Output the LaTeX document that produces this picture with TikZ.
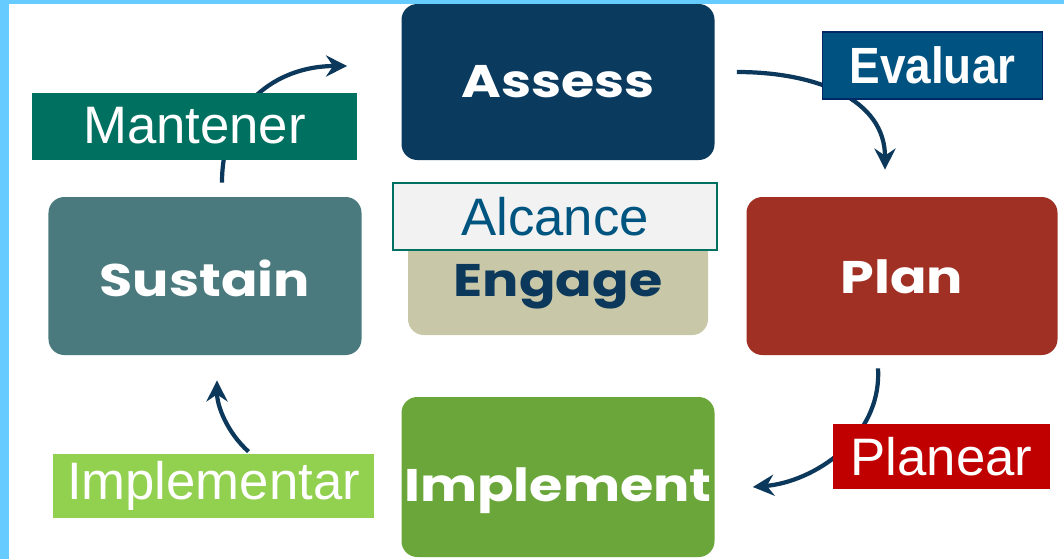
\documentclass[tikz,border=0pt]{standalone}
\usepackage{fontspec}
\usepackage{graphicx}
\setmainfont{Liberation Sans}
\newfontfamily\stagefont{Poppins}[FakeStretch=1.18]
\usetikzlibrary{arrows.meta, positioning, calc}
\definecolor{skyframe}{RGB}{102,204,255}
\definecolor{assessblue}{RGB}{10,58,94}
\definecolor{sustainteal}{RGB}{74,122,125}
\definecolor{engagebeige}{RGB}{200,200,168}
\definecolor{planred}{RGB}{160,48,36}
\definecolor{implementgreen}{RGB}{106,166,58}
\definecolor{cyclenavy}{RGB}{12,56,92}
\definecolor{mantenergreen}{RGB}{0,112,96}
\definecolor{evaluarblue}{RGB}{0,82,128}
\definecolor{evaluarrim}{RGB}{0,40,100}
\definecolor{planearred}{RGB}{192,0,0}
\definecolor{implementarlime}{RGB}{146,208,80}
\definecolor{alcancegrey}{RGB}{242,242,242}
\definecolor{alcancetext}{RGB}{0,84,128}

\begin{document}
\begin{tikzpicture}[
    x=0.2mm, y=-0.2mm,
    stage/.style={rectangle, rounded corners=9pt, text=white, inner xsep=0pt,
                  minimum width=6.26cm, minimum height=3.12cm,
                  text height=18pt, text depth=0pt,
                  font=\stagefont\bfseries\fontsize{26}{30}\selectfont},
    tag/.style={rectangle, inner sep=0pt, text=white, minimum height=1.34cm,
                font=\fontsize{30}{34}\selectfont},
    cycle/.style={-{Stealth[length=12pt,width=12pt,inset=4pt]}, line width=2.4pt,
                  cyclenavy}
]
    % page and frame
    \fill[white] (0,0) rectangle (1064,559);
    \useasboundingbox (0,0) rectangle (1064,559);
    \fill[skyframe] (0,0) rectangle (1064,4);
    \fill[skyframe] (0,0) rectangle (9,559);

    % the five stages
    \node[stage, fill=assessblue] (assess) at (558,82) {Assess};
    \node[stage, fill=sustainteal, minimum height=3.16cm, text height=23.6pt] (sustain) at (205,276) {Sustain};
    \node[stage, fill=planred, minimum width=6.22cm, minimum height=3.16cm, text height=20pt] (plan) at (902,276) {Plan};
    \node[stage, fill=implementgreen, minimum height=3.2cm, text height=28pt] (implement) at (558,477) {Implement};
    \node[stage, fill=engagebeige, text=cyclenavy, minimum width=6cm, minimum height=2.16cm] (engage) at (558,281) {Engage};

    % cycle arrows
    \draw[cycle] ([shift={(17,-14)}]sustain.north) .. controls +(0,-78) and +(-70,0) .. ([shift={(-54,-16)}]assess.west);
    \draw[cycle] ([shift={(22,-10)}]assess.east) .. controls +(80,0) and +(0,-70) .. ([shift={(-17,-27)}]plan.north);
    \draw[cycle] ([shift={(-24,13)}]plan.south) .. controls +(4,70) and +(60,-5) .. ([shift={(38,10)}]implement.east);

    % spanish tags
    \node[tag, fill=mantenergreen, minimum width=6.5cm] (mantener) at (194.5,126) {Mantener};
    \node[tag, fill=evaluarblue, draw=evaluarrim, line width=0.8pt, minimum width=4.4cm] (evaluar) at (932.5,65.5)
        {\fontsize{29}{34}\selectfont\bfseries\scalebox{0.9}[1]{Evaluar}};
    \node[tag, fill=alcancegrey, draw=mantenergreen, line width=0.8pt, text=alcancetext, minimum width=6.48cm] (alcance) at (555,216.5) {Alcance};
    \node[tag, fill=planearred, minimum width=4.34cm, minimum height=1.3cm] (planear) at (941.5,456.5) {Planear};
    \node[tag, fill=implementarlime, minimum width=6.42cm, minimum height=1.28cm] (implementar) at (213.5,486) {Implementar};

    \draw[cycle] ([shift={(35,-2)}]implementar.north) .. controls +(-22,-20) and +(0,25) .. ([shift={(12,25)}]sustain.south);
\end{tikzpicture}
\end{document}
